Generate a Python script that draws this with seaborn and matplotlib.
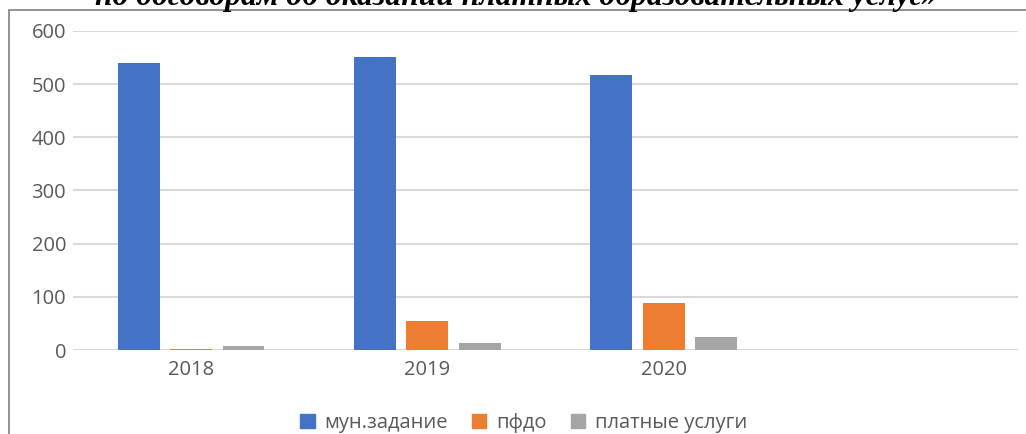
import pandas as pd
import seaborn as sns
import matplotlib.pyplot as plt
from matplotlib.patches import Rectangle

# Данные по годам
years = ["2018", "2019", "2020"]
mun_zadanie = [540, 551, 517]
pfdo = [2, 55, 89]
platnye = [7, 14, 25]
series_names = ["мун.задание", "пфдо", "платные услуги"]
colors = ["#4472C4", "#ED7D31", "#A5A5A5"]

title_text = "по договорам об оказании платных образовательных услуг»"

data = pd.DataFrame({
    "Год": years * 3,
    "Значение": mun_zadanie + pfdo + platnye,
    "Серия": [series_names[0]] * 3 + [series_names[1]] * 3 + [series_names[2]] * 3,
})

sns.set_style("white")
plt.rcParams['font.family'] = ['Open Sans', 'DejaVu Sans']

fig = plt.figure(figsize=(10.26, 4.34), dpi=100)
ax = fig.add_axes([73 / 1026, 1 - 350 / 434, (1018 - 73) / 1026, (350 - 31) / 434])

sns.barplot(
    data=data, x="Год", y="Значение", hue="Серия",
    palette=colors, width=0.665, gap=0.2, ax=ax, legend=False,
    saturation=1, linewidth=0,
)

ax.set_xlim(-0.5, 3.5)
ax.set_ylim(0, 600)
ax.set_yticks(range(0, 601, 100))
ax.set_xlabel("")
ax.set_ylabel("")
for s in ax.spines.values():
    s.set_visible(False)
ax.yaxis.grid(True, color="#D9D9D9", linewidth=1.5)
ax.set_axisbelow(True)
ax.tick_params(axis="both", length=0, labelsize=14.5, labelcolor="#595959")
ax.tick_params(axis="y", pad=5)
ax.tick_params(axis="x", pad=7)

# легенда
handles = [Rectangle((0, 0), 1, 1, color=c) for c in colors]
fig.legend(handles, series_names, loc="center", ncol=3,
           bbox_to_anchor=(524 / 1026, 1 - 423 / 434), frameon=False,
           fontsize=14.5, labelcolor="#595959", handlelength=0.7,
           handleheight=0.7, handletextpad=0.5, columnspacing=1.2)

# обрезанный заголовок сверху
fig.text(516 / 1026, 1 - 5 / 434, title_text, ha="center", va="baseline",
         fontsize=22.8, fontweight="bold", fontstyle="italic",
         family=["Liberation Serif"], color="black")

# рамка диаграммы
fig.patches.append(Rectangle((9 / 1026, -0.1), 1.2, 1.1 - 10 / 434,
                             transform=fig.transFigure, fill=False,
                             edgecolor="#8A8A8A", linewidth=1.3))

fig.savefig("out.png", dpi=100)
